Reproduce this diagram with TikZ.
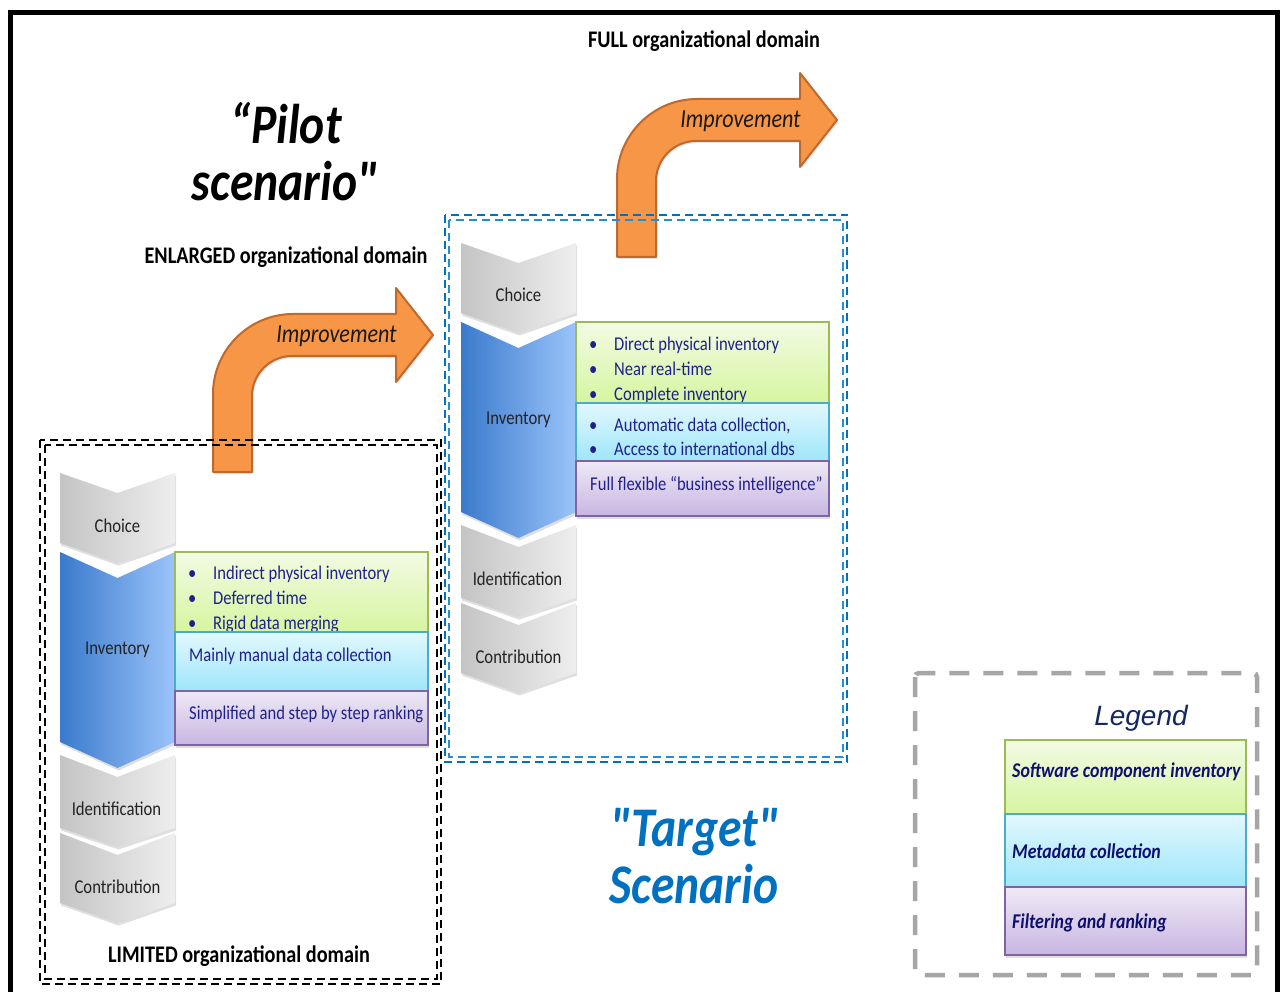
\documentclass[tikz,border=0pt]{standalone}
\usepackage{fontspec}
\setmainfont{Carlito}[FakeStretch=0.85, Ligatures=TeXOff]
\newfontfamily\lgfont{Liberation Sans}
\usetikzlibrary{shadows}
\definecolor{gA}{RGB}{196,196,196}
\definecolor{gB}{RGB}{238,238,238}
\definecolor{bA}{RGB}{58,122,204}
\definecolor{bB}{RGB}{155,196,250}
\definecolor{grT}{RGB}{242,251,228}
\definecolor{grB}{RGB}{214,245,160}
\definecolor{grD}{RGB}{155,187,89}
\definecolor{cyT}{RGB}{226,248,254}
\definecolor{cyB}{RGB}{158,230,250}
\definecolor{cyD}{RGB}{75,172,198}
\definecolor{puT}{RGB}{238,233,246}
\definecolor{puB}{RGB}{200,182,225}
\definecolor{puD}{RGB}{128,100,162}
\definecolor{orF}{RGB}{247,150,70}
\definecolor{orD}{RGB}{190,105,45}
\definecolor{navy}{RGB}{32,32,140}
\definecolor{lnavy}{RGB}{15,15,110}
\definecolor{chtx}{RGB}{35,35,35}
\definecolor{tblue}{RGB}{0,112,192}
\definecolor{dblue}{RGB}{0,112,192}
\definecolor{lblue}{RGB}{40,140,210}
\definecolor{lggray}{RGB}{166,166,166}
\definecolor{lgtitle}{RGB}{20,40,95}
\newcommand\chev[5]{\path[#1] (60,#2) -- (117.5,#3) -- (175,#2) -- (175,#4) -- (117.5,#5) -- (60,#4) -- cycle;}
\newcommand\bul{\makebox[25pt][l]{\textbullet}}
\newcommand\chevstack[1]{%
  \chev{chevgrey}{473}{493}{543}{563}
  \chev{chevblue}{552}{578}{742}{768}
  \chev{chevgrey}{755}{777}{828}{847}
  \chev{chevgrey}{833}{855}{903}{923}
  \node[chtext] (#1ch) at (117.5,532) {Choice};
  \node[chtext] (#1inv) at (117.5,654) {Inventory};
  \node[chtext] (#1id) at (116.5,815) {Identification};
  \node[chtext] (#1co) at (117.5,893) {Contribution};
}
\newcommand\bentarrow[1]{%
  \path[arrowsty] (213,472) -- (213,394) .. controls (213,350) and (249,314) .. (293,314)
    -- (396,314) -- (396,288) -- (433,335) -- (396,382) -- (396,356) -- (292,356)
    .. controls (270,356) and (252,374) .. (252,396) -- (252,472) -- cycle;
  \node[imptext] (#1) at (336.5,343) {Improvement};
}
\begin{document}
\begin{tikzpicture}[x=1pt,y=-1pt,
  chevgrey/.style={left color=gA, right color=gB, drop shadow={opacity=0.25, shadow xshift=1pt, shadow yshift=-2.5pt}},
  chevblue/.style={left color=bA, right color=bB, drop shadow={opacity=0.25, shadow xshift=1pt, shadow yshift=-2.5pt}},
  chtext/.style={anchor=base, inner sep=0, text=chtx, font=\fontsize{19.6}{22}\selectfont},
  btxt/.style={anchor=base west, inner sep=0, text=navy, font=\fontsize{19.5}{22}\selectfont},
  grbox/.style={draw=grD, line width=1.5, top color=grT, bottom color=grB},
  cybox/.style={draw=cyD, line width=1.5, top color=cyT, bottom color=cyB},
  pubox/.style={draw=puD, line width=1.5, top color=puT, bottom color=puB, drop shadow={opacity=0.25, shadow xshift=1pt, shadow yshift=-2.5pt}},
  arrowsty/.style={fill=orF, draw=orD, line width=2, line join=round, drop shadow={opacity=0.2, shadow xshift=1.5pt, shadow yshift=-2pt}},
  imptext/.style={anchor=base, inner sep=0, text=black!90, font=\itshape\fontsize{26}{28}\selectfont},
  domtext/.style={anchor=base, inner sep=0, font=\bfseries\fontsize{23.8}{26}\selectfont},
  bigtext/.style={anchor=base, inner sep=0, font=\bfseries\itshape\fontsize{56}{60}\selectfont},
  lgtext/.style={anchor=base west, inner sep=0, text=lnavy, font=\bfseries\itshape\fontsize{21}{24}\selectfont},
  blackdash/.style={draw=black, line width=2, dash pattern=on 8pt off 5pt},
  bluedash/.style={line width=2, dash pattern=on 8pt off 5pt}
]
\useasboundingbox (0,0) rectangle (1280,992);
\fill[white] (0,0) rectangle (1280,992);
\draw[line width=5] (10.5,1000) -- (10.5,12.5) -- (1277.5,12.5) -- (1277.5,1000);

% arrows
\bentarrow{impA}
\begin{scope}[shift={(404,-215)}]
  \bentarrow{impB}
\end{scope}

% titles
\node[bigtext] (pilotA) at (286,144) {“Pilot};
\node[bigtext] (pilotB) at (285,201) {scenario"};
\node[domtext] (enl) at (286,264) {ENLARGED organizational domain};
\node[domtext] (full) at (704,48) {FULL organizational domain};
\node[domtext] (lim) at (239,962) {LIMITED organizational domain};
\node[bigtext, text=tblue] (tgtA) at (695,846) {"Target"};
\node[bigtext, text=tblue] (tgtB) at (694,903) {Scenario};

% left stack
\chevstack{L}
\path[grbox] (175,552) rectangle (428,632);
\node[btxt] (La1) at (188,579) {\bul Indirect physical inventory};
\node[btxt] (La2) at (188,604) {\bul Deferred time};
\node[btxt] (La3) at (188,629.5) {\bul Rigid data merging};
\path[cybox] (175,632) rectangle (428,691);
\node[btxt] (Lb1) at (189,661) {Mainly manual data collection};
\path[pubox] (175,691) rectangle (428,745);
\node[btxt] (Lc1) at (189,719) {Simplified and step by step ranking};

% right stack
\begin{scope}[shift={(401,-230)}]
  \chevstack{R}
\end{scope}
\path[grbox] (576,322) rectangle (829,403);
\node[btxt] (Ra1) at (589,351) {\bul Direct physical inventory};
\node[btxt] (Ra2) at (589,375) {\bul Near real-time};
\node[btxt] (Ra3) at (589,400.5) {\bul Complete inventory};
\path[cybox] (576,403) rectangle (829,461);
\node[btxt] (Rb1) at (589,431) {\bul Automatic data collection,};
\node[btxt] (Rb2) at (589,455) {\bul Access to international dbs};
\path[pubox] (576,461) rectangle (829,516);
\node[btxt] (Rc1) at (590,490) {Full flexible “business intelligence”};

% dashed domain frames
\draw[blackdash] (40,440) rectangle (441,984);
\draw[blackdash] (45,445) rectangle (437,979);
\draw[bluedash, draw=dblue] (444.5,215) rectangle (847,762);
\draw[bluedash, draw=lblue] (449,220) rectangle (842.5,757);

% legend
\draw[lggray, line width=4.5, dash pattern=on 20pt off 14pt, rounded corners=4] (915,673) rectangle (1257,975);
\node[anchor=base, inner sep=0, text=lgtitle, font=\lgfont\itshape\fontsize{28}{30}\selectfont] (lgt) at (1141,725) {Legend};
\path[grbox, line width=1.2] (1005,740) rectangle (1246,814);
\node[lgtext] (lg1) at (1012,777) {Software component inventory};
\path[cybox, line width=1.2] (1005,814) rectangle (1246,887);
\node[lgtext] (lg2) at (1012,858) {Metadata collection};
\path[pubox, line width=1.2] (1005,887) rectangle (1246,955);
\node[lgtext] (lg3) at (1012,928) {Filtering and ranking};
\end{tikzpicture}
\end{document}
